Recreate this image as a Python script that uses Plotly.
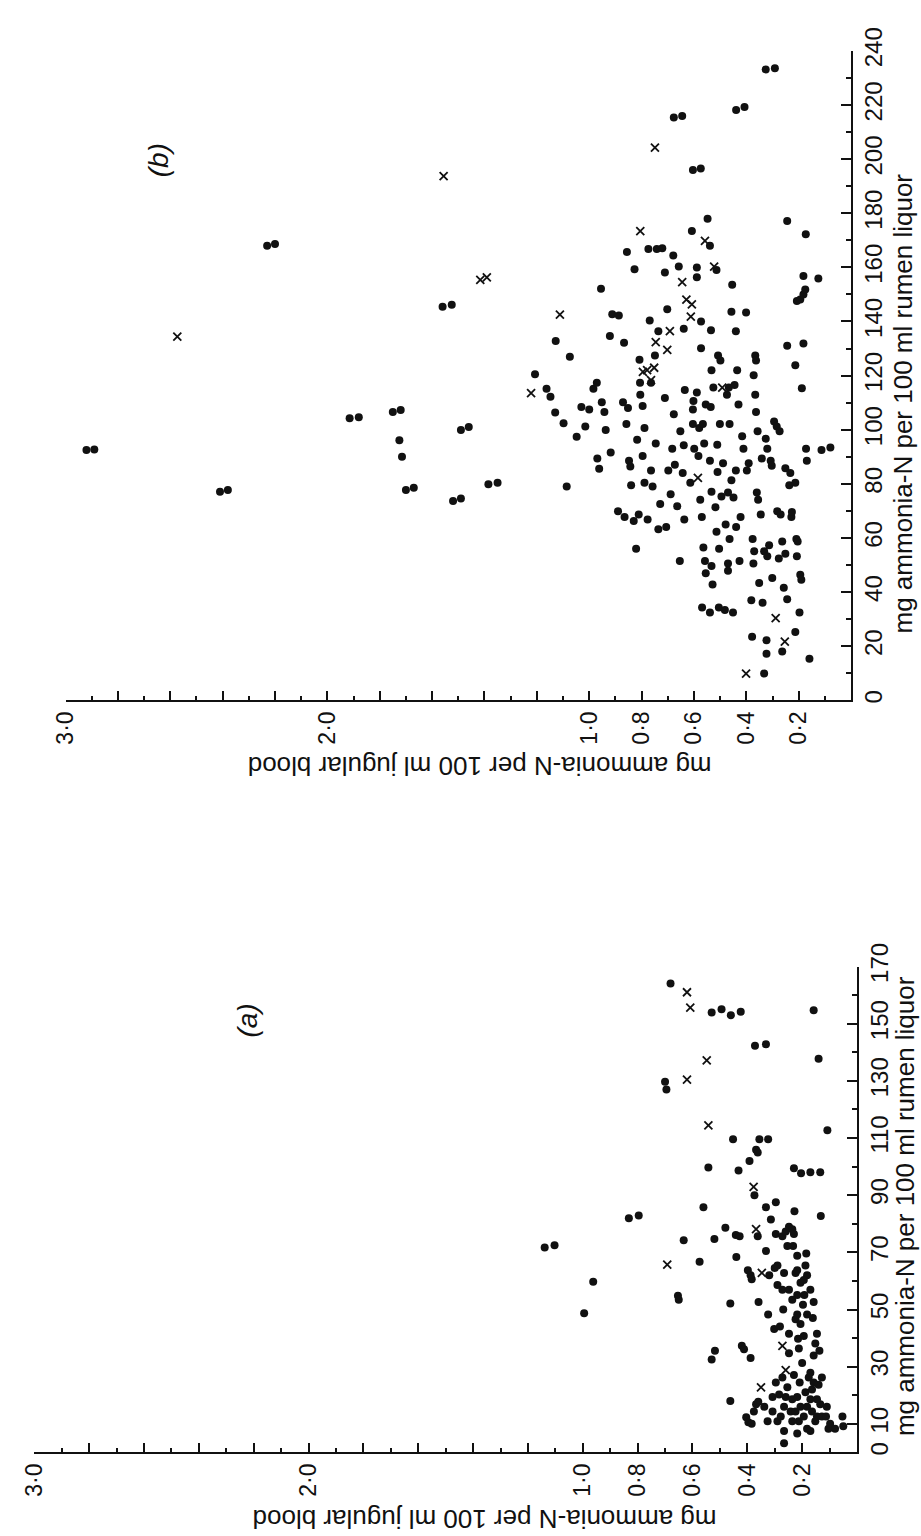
import plotly.graph_objects as go

# Jugular blood ammonia-N (mg/100 ml) vs rumen liquor ammonia-N (mg/100 ml)
# Each entry: (blood, rumen)

panel_b_dots = [
    (2.92, 92.5), (2.89, 92.7), (2.41, 77.1), (2.38, 77.7), (2.23, 168.0), (2.20, 168.6),
    (1.915, 104.2), (1.88, 104.6), (1.75, 106.6), (1.72, 107.3), (1.725, 96.1), (1.715, 90.0),
    (1.70, 77.7), (1.67, 78.6), (1.56, 145.4), (1.525, 146.2), (1.52, 73.7), (1.49, 74.6),
    (1.49, 99.9), (1.46, 101.0),
    (1.385, 79.9), (1.35, 80.4), (1.207, 120.5), (1.163, 115.1), (1.148, 112.2), (1.13, 106.4),
    (1.128, 132.8), (1.098, 102.4), (1.074, 127.0), (1.086, 79.0), (1.048, 97.4), (1.015, 101.2),
    (1.03, 108.4), (1.0, 107.5), (0.984, 115.1), (0.971, 117.4), (0.952, 110.2), (0.955, 152.1),
    (0.969, 89.4), (0.962, 85.6), (0.942, 106.6), (0.937, 99.9), (0.918, 91.6), (0.921, 134.6),
    (0.912, 142.7), (0.887, 142.2), (0.89, 69.9), (0.867, 132.1), (0.871, 110.2), (0.865, 67.8),
    (0.856, 165.7), (0.852, 108.0), (0.848, 88.5), (0.843, 86.4), (0.84, 79.5), (0.83, 66.3),
    (0.858, 102.1), (0.827, 159.3), (0.821, 56.0), (0.817, 96.3), (0.811, 68.7), (0.808, 125.9),
    (0.806, 117.4), (0.805, 112.9), (0.796, 90.3), (0.796, 108.8), (0.789, 80.4), (0.789, 100.6),
    (0.777, 66.8), (0.769, 140.4), (0.774, 166.8), (0.764, 117.4), (0.764, 84.9), (0.758, 79.0),
    (0.749, 127.4), (0.746, 94.9), (0.742, 166.8), (0.736, 136.4), (0.736, 63.2), (0.729, 72.6),
    (0.721, 167.1), (0.711, 158.1), (0.711, 111.7), (0.706, 64.1), (0.702, 144.5), (0.698, 84.9),
    (0.689, 76.2), (0.683, 93.0), (0.679, 164.4), (0.677, 105.7), (0.673, 87.1), (0.664, 71.7),
    (0.658, 160.3), (0.654, 51.5), (0.652, 99.4), (0.643, 84.0), (0.639, 137.3), (0.639, 94.3),
    (0.637, 66.8), (0.635, 114.7), (0.614, 80.4), (0.608, 173.4), (0.604, 102.1), (0.604, 107.5),
    (0.602, 110.6), (0.599, 93.0), (0.589, 113.8), (0.589, 156.3), (0.589, 159.9), (0.583, 90.3),
    (0.58, 100.6), (0.576, 74.1), (0.604, 196.0), (0.574, 196.5), (0.573, 130.1), (0.573, 140.0),
    (0.57, 67.8), (0.569, 34.3), (0.566, 102.1), (0.564, 56.5), (0.561, 94.9), (0.558, 51.5),
    (0.555, 47.0), (0.555, 109.3), (0.548, 178.0), (0.539, 32.5), (0.539, 168.0), (0.539, 88.5),
    (0.536, 108.4), (0.533, 77.1), (0.535, 136.8), (0.533, 49.7), (0.529, 42.8), (0.514, 159.0),
    (0.533, 122.0), (0.526, 115.6), (0.518, 71.4), (0.514, 62.3), (0.511, 94.5), (0.51, 84.4),
    (0.508, 127.4), (0.505, 34.3), (0.504, 56.0), (0.501, 102.1), (0.499, 125.6), (0.495, 75.3),
    (0.489, 87.6), (0.482, 33.4), (0.479, 65.0), (0.474, 112.9), (0.47, 50.6), (0.47, 47.9),
    (0.47, 76.8), (0.467, 115.6), (0.464, 102.1), (0.464, 59.6), (0.457, 81.3), (0.454, 153.6),
    (0.457, 143.6), (0.451, 32.5), (0.449, 75.0), (0.445, 116.5), (0.44, 136.4), (0.44, 84.9),
    (0.439, 64.1), (0.435, 122.0), (0.439, 218.1), (0.407, 219.2), (0.43, 109.3), (0.426, 51.5),
    (0.422, 67.8), (0.416, 97.6), (0.411, 93.0), (0.401, 143.3), (0.398, 84.9), (0.391, 87.6),
    (0.378, 23.5), (0.381, 37.0), (0.376, 59.6), (0.373, 50.6), (0.37, 55.1), (0.372, 120.1),
    (0.366, 127.4), (0.363, 125.6), (0.366, 112.9), (0.363, 106.6), (0.36, 76.8), (0.357, 99.4),
    (0.355, 74.1), (0.351, 43.4), (0.345, 68.7), (0.341, 89.4), (0.338, 36.1), (0.332, 55.1),
    (0.332, 9.9), (0.326, 96.7), (0.323, 17.2), (0.323, 22.2), (0.32, 93.0), (0.32, 53.3),
    (0.313, 57.3), (0.307, 88.5), (0.303, 86.7), (0.301, 45.2), (0.294, 103.0), (0.326, 233.1),
    (0.291, 233.6), (0.284, 101.2), (0.282, 69.9), (0.276, 52.4), (0.273, 99.4), (0.269, 68.7),
    (0.263, 18.1), (0.263, 58.7), (0.257, 41.6), (0.251, 54.2), (0.251, 85.8), (0.244, 177.1),
    (0.244, 131.0), (0.244, 37.4), (0.236, 79.5), (0.232, 84.0), (0.228, 67.8), (0.226, 69.6),
    (0.213, 25.3), (0.213, 80.4), (0.213, 123.8), (0.209, 59.6), (0.207, 53.3), (0.204, 58.7),
    (0.197, 32.5), (0.194, 46.4), (0.19, 44.6), (0.188, 115.3), (0.182, 131.9), (0.207, 147.6),
    (0.194, 148.1), (0.182, 150.0), (0.175, 151.8), (0.173, 172.2), (0.182, 156.8), (0.172, 93.0),
    (0.169, 88.5), (0.159, 15.4), (0.125, 155.9), (0.113, 92.5), (0.079, 93.4), (0.645, 215.9),
    (0.677, 215.4),
]

panel_b_crosses = [
    (2.573, 134.4), (1.556, 193.7), (1.416, 155.4), (1.391, 156.3), (1.112, 142.5), (1.222, 113.5),
    (0.795, 121.4), (0.779, 122.0), (0.764, 118.3), (0.752, 122.9), (0.746, 132.4), (0.702, 129.5),
    (0.692, 136.4), (0.645, 154.5), (0.629, 148.1), (0.608, 146.3), (0.612, 141.8), (0.585, 82.2),
    (0.558, 169.8), (0.523, 160.3), (0.492, 115.6), (0.401, 9.9), (0.288, 30.4), (0.253, 21.7),
    (0.749, 204.2), (0.805, 173.4),
]

panel_a_dots = [
    (1.139, 71.7), (1.103, 72.5), (0.995, 48.7), (0.962, 59.7), (0.832, 81.9), (0.796, 82.9),
    (0.700, 129.7), (0.695, 127.0), (0.680, 164.1), (0.653, 54.8), (0.650, 53.4), (0.632, 74.2),
    (0.574, 66.7), (0.560, 85.8), (0.542, 99.7), (0.530, 153.9), (0.530, 32.5), (0.518, 35.6),
    (0.520, 74.7), (0.494, 155.1), (0.480, 78.6), (0.462, 18.0), (0.462, 52.1), (0.460, 153.0),
    (0.452, 109.6), (0.442, 76.1), (0.432, 98.6), (0.428, 75.6), (0.424, 154.2), (0.440, 68.4),
    (0.420, 37.3), (0.412, 36.1), (0.388, 33.0), (0.392, 102.0), (0.398, 63.7), (0.388, 62.0),
    (0.384, 60.6), (0.404, 12.3), (0.396, 10.6), (0.384, 10.0), (0.376, 14.3), (0.368, 16.9),
    (0.360, 17.7), (0.372, 142.3), (0.368, 105.9), (0.362, 104.9), (0.356, 109.6), (0.374, 90.0),
    (0.362, 75.6), (0.359, 52.6), (0.332, 142.8), (0.324, 109.6), (0.320, 62.0), (0.332, 85.8),
    (0.332, 70.5), (0.324, 48.3), (0.314, 81.5), (0.302, 43.2), (0.296, 87.5), (0.300, 64.5),
    (0.290, 58.6), (0.296, 76.4), (0.281, 44.1), (0.272, 56.9), (0.269, 50.0), (0.260, 19.4),
    (0.266, 7.5), (0.266, 3.2), (0.254, 72.2), (0.248, 41.5), (0.248, 34.7), (0.242, 14.3),
    (0.236, 18.6), (0.230, 27.1), (0.230, 99.4), (0.233, 72.2), (0.228, 84.4), (0.224, 62.8),
    (0.224, 46.6), (0.218, 68.8), (0.218, 55.1), (0.215, 39.8), (0.212, 10.9), (0.212, 36.4),
    (0.209, 24.5), (0.206, 16.0), (0.206, 59.4), (0.204, 97.7), (0.200, 31.3), (0.197, 51.7),
    (0.194, 40.7), (0.194, 12.6), (0.192, 55.1), (0.188, 65.4), (0.185, 69.6), (0.188, 21.1),
    (0.182, 62.0), (0.182, 48.3), (0.182, 8.3), (0.176, 26.2), (0.170, 98.0), (0.170, 18.6),
    (0.164, 14.3), (0.161, 47.0), (0.158, 52.6), (0.158, 33.9), (0.152, 10.9), (0.158, 154.7),
    (0.140, 137.7), (0.134, 16.9), (0.128, 12.6), (0.134, 98.0), (0.132, 82.7), (0.128, 26.2),
    (0.108, 112.7), (0.104, 8.3), (0.098, 10.0), (0.080, 8.3), (0.050, 9.2), (0.053, 12.6),
    (0.110, 16.0), (0.113, 12.6), (0.146, 12.6), (0.164, 22.0), (0.170, 27.9), (0.140, 23.7),
    (0.137, 35.6), (0.146, 41.5), (0.152, 38.1), (0.290, 65.4), (0.266, 62.8), (0.248, 56.9),
    (0.236, 53.4), (0.218, 48.3), (0.206, 44.9), (0.272, 75.6), (0.260, 77.3), (0.248, 79.0),
    (0.236, 78.1), (0.230, 76.4), (0.218, 63.7), (0.194, 60.3), (0.170, 56.9), (0.338, 16.0),
    (0.308, 14.3), (0.290, 10.9), (0.278, 12.6), (0.284, 20.3), (0.254, 22.8), (0.236, 10.9),
    (0.224, 14.3), (0.218, 19.4), (0.182, 16.0), (0.158, 24.5), (0.146, 18.6), (0.308, 19.4),
    (0.296, 24.5), (0.272, 26.2), (0.266, 16.0), (0.218, 6.6), (0.170, 7.5), (0.326, 10.9),
]

panel_a_crosses = [
    (0.692, 65.7), (0.620, 130.4), (0.620, 161.0), (0.608, 155.6), (0.548, 137.2), (0.542, 114.4),
    (0.377, 92.9), (0.368, 78.1), (0.350, 22.8), (0.347, 62.8), (0.272, 37.3), (0.260, 28.8),
]

# Axis tick values and labels
blood_major = [3.0, 2.8, 2.6, 2.4, 2.2, 2.0, 1.8, 1.6, 1.4, 1.2, 1.0, 0.8, 0.6, 0.4, 0.2]
blood_labels = ["3·0", "", "", "", "", "2·0", "", "", "", "", "1·0", "0·8", "0·6", "0·4", "0·2"]
blood_minor = [2.9, 2.7, 2.5, 2.3, 2.1, 1.9, 1.7, 1.5, 1.3, 1.1, 0.9, 0.7, 0.5, 0.3, 0.1]

rumen_b_major = [0, 20, 40, 60, 80, 100, 120, 140, 160, 180, 200, 220, 240]
rumen_b_minor = [10, 30, 50, 70, 90, 110, 130, 150, 170, 190, 210, 230]
rumen_a_major = [0, 10, 30, 50, 70, 90, 110, 130, 150, 170]
rumen_a_minor = [20, 40, 60, 80, 100, 120, 140, 160]

W, H = 921, 1536
FONT = "Liberation Sans, Arial, Helvetica, sans-serif"
INK = "#111111"


def px(x):
    return x / W


def py(y):
    return 1 - y / H


def unzip(pairs):
    return [p[0] for p in pairs], [p[1] for p in pairs]


fig = go.Figure()

for pairs, symbol, xa, ya in [
    (panel_b_dots, "dot", "x", "y"),
    (panel_b_crosses, "cross", "x", "y"),
    (panel_a_dots, "dot", "x2", "y2"),
    (panel_a_crosses, "cross", "x2", "y2"),
]:
    bx, by = unzip(pairs)
    if symbol == "dot":
        marker = dict(symbol="circle", size=8, color=INK, line=dict(width=0))
    else:
        marker = dict(symbol="x-thin", size=8, color=INK, line=dict(width=1.8, color=INK))
    fig.add_trace(go.Scatter(x=bx, y=by, mode="markers", marker=marker,
                             xaxis=xa, yaxis=ya, showlegend=False, hoverinfo="skip"))


def blood_axis(domain, anchor):
    return dict(
        domain=domain, anchor=anchor, range=[3.0, 0], side="bottom",
        showline=True, linecolor=INK, linewidth=1.6, mirror=False,
        ticks="inside", ticklen=10, tickwidth=1.6, tickcolor=INK,
        tickmode="array", tickvals=blood_major, ticktext=blood_labels,
        tickangle=-90, tickfont=dict(family=FONT, size=23, color=INK),
        minor=dict(tickvals=blood_minor, ticks="inside", ticklen=5, tickwidth=1.6,
                   tickcolor=INK, showgrid=False),
        showgrid=False, zeroline=False, fixedrange=True,
    )


def rumen_axis(domain, anchor, rng, major, minor):
    return dict(
        domain=domain, anchor=anchor, range=rng, side="right",
        showline=True, linecolor=INK, linewidth=1.6,
        ticks="inside", ticklen=10, tickwidth=1.6, tickcolor=INK,
        tickmode="array", tickvals=major, ticktext=[str(v) for v in major],
        tickangle=-90, tickfont=dict(family=FONT, size=24, color=INK),
        minor=dict(tickvals=minor, ticks="inside", ticklen=5, tickwidth=1.6,
                   tickcolor=INK, showgrid=False),
        showgrid=False, zeroline=False, fixedrange=True,
    )


fig.update_layout(
    width=W, height=H, autosize=False,
    margin=dict(l=0, r=0, t=0, b=0),
    paper_bgcolor="white", plot_bgcolor="white",
    xaxis=blood_axis([px(52.3), px(850)], "y"),
    yaxis=rumen_axis([py(688.5), py(27.3)], "x", [0, 240], rumen_b_major, rumen_b_minor),
    xaxis2=blood_axis([px(20.7), px(856)], "y2"),
    yaxis2=rumen_axis([py(1454), py(959.4)], "x2", [0, 170], rumen_a_major, rumen_a_minor),
)

blood_title = "mg ammonia-N per 100 ml jugular blood"
rumen_title = "mg ammonia-N per 100 ml rumen liquor"

notes = [
    ("(b)", 147, 139, -90, 28, True),
    ("(a)", 237, 1014, -90, 28, True),
    (blood_title, 473, 756, 180, 26, False),
    (blood_title, 478, 1521, 180, 26, False),
    (rumen_title, 903, 386, -90, 26, False),
    (rumen_title, 905, 1203, -90, 26, False),
]
for text, x, y, ang, size, italic in notes:
    fig.add_annotation(
        text=f"<i>{text}</i>" if italic else text,
        x=px(x), y=py(y), xref="paper", yref="paper",
        xanchor="center", yanchor="middle", showarrow=False, textangle=ang,
        font=dict(family=FONT, size=size, color=INK),
    )

fig.write_html("out.html")
